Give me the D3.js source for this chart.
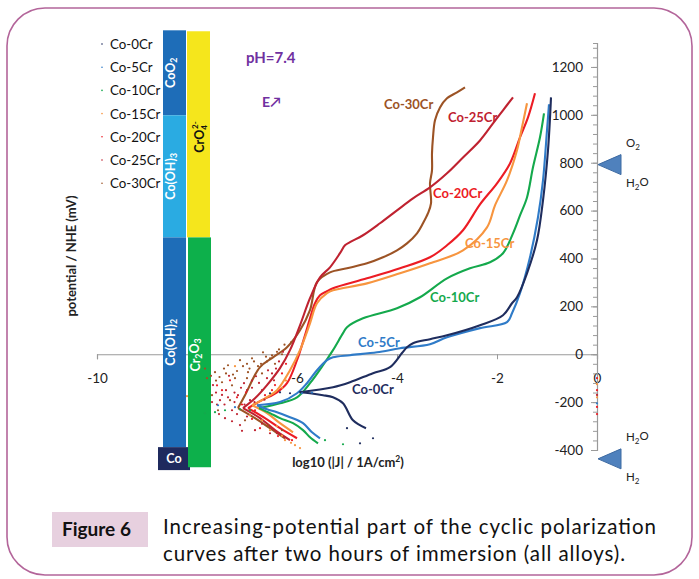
<!DOCTYPE html>
<html>
<head>
<meta charset="utf-8">
<script src="https://cdn.jsdelivr.net/npm/d3@7"></script>
<style>
  body { margin: 0; background: #fff; }
  svg { display: block; font-family: Lato, "Open Sans", sans-serif; }
</style>
</head>
<body>
<div id="chart"></div>
<script>
// series names and colours
var seriesNames = ["Co-0Cr", "Co-5Cr", "Co-10Cr", "Co-15Cr", "Co-20Cr", "Co-25Cr", "Co-30Cr"];
var seriesColors = ["#1f2d5e", "#2f7bc8", "#14a94c", "#f7953f", "#ec1c24", "#bf2230", "#9c5325"];

// polarization curves : [log10 |J|, E (mV/NHE)] ; cathodic part first, then anodic part from Ecorr
var curve0Cr = [[-4.62,-309],[-4.88,-276],[-5.08,-205],[-5.28,-180],[-5.48,-171],[-5.74,-163],[-5.95,-159],
  [-5.28,-138],[-4.94,-117],[-4.48,-79],[-4.14,-54],[-3.90,5],[-3.80,29],[-3.68,46],[-3.34,63],[-3.00,79],[-2.34,121],
  [-1.88,163],[-1.70,213],[-1.60,238],[-1.40,338],[-1.20,476],[-1.08,643],[-0.98,852],[-0.92,1073]];
var curve5Cr = [[-5.54,-351],[-5.70,-326],[-5.88,-288],[-6.14,-263],[-6.40,-242],[-6.60,-230],[-6.80,-213],
  [-6.34,-200],[-6.00,-163],[-5.80,-121],[-5.60,-67],[-5.40,-25],[-5.28,-13],[-4.94,-4],[-4.40,8],[-3.94,25],
  [-3.34,42],[-3.00,71],[-2.34,109],[-1.80,134],[-1.70,171],[-1.54,255],[-1.34,405],[-1.18,572],[-1.08,726],
  [-1.00,935],[-0.96,1044]];
var curve10Cr = [[-5.58,-372],[-5.74,-347],[-5.88,-317],[-6.08,-288],[-6.34,-267],[-6.54,-246],[-6.76,-225],
  [-6.34,-205],[-6.00,-180],[-5.74,-121],[-5.48,-46],[-5.28,17],[-5.08,88],[-5.00,113],[-4.68,150],[-4.00,192],
  [-3.54,238],[-3.00,317],[-2.54,359],[-2.14,384],[-1.88,422],[-1.68,505],[-1.54,580],[-1.40,655],[-1.28,781],
  [-1.14,906],[-1.06,1006]];
var curve15Cr = [[-6.08,-326],[-6.34,-288],[-6.60,-246],[-6.90,-213],
  [-6.64,-184],[-6.40,-150],[-6.14,-67],[-5.94,17],[-5.74,129],[-5.60,213],[-5.40,255],[-5.28,267],[-4.60,296],
  [-3.94,338],[-3.34,380],[-2.68,434],[-2.20,530],[-2.04,622],[-1.80,726],[-1.60,852],[-1.50,948],[-1.40,1048]];
var curve20Cr = [[-6.00,-351],[-6.34,-309],[-6.64,-267],[-6.98,-225],
  [-6.70,-192],[-6.40,-159],[-6.20,-121],[-6.00,-25],[-5.84,79],[-5.74,150],[-5.64,213],[-5.54,246],[-5.40,263],
  [-5.28,276],[-4.60,317],[-3.94,359],[-3.34,405],[-3.00,455],[-2.68,518],[-2.34,626],[-2.00,714],[-1.74,797],
  [-1.54,906],[-1.38,989],[-1.24,1090]];
var curve25Cr = [[-6.14,-359],[-6.44,-317],[-6.74,-267],[-7.08,-225],
  [-6.84,-184],[-6.60,-129],[-6.34,-58],[-6.14,17],[-5.94,121],[-5.74,234],[-5.54,321],[-5.34,363],[-5.14,422],
  [-5.04,455],[-4.94,468],[-4.68,497],[-4.34,547],[-4.00,601],[-3.68,651],[-3.34,697],[-3.00,756],[-2.68,822],
  [-2.34,893],[-2.08,964],[-1.88,1019],[-1.68,1073]];
var curve30Cr = [[-6.24,-351],[-6.54,-309],[-6.84,-267],[-7.18,-225],
  [-7.04,-171],[-6.74,-54],[-6.48,-13],[-6.20,29],[-5.94,100],[-5.74,184],[-5.60,301],[-5.34,342],[-5.00,359],
  [-4.60,380],[-4.28,405],[-4.00,434],[-3.80,463],[-3.60,505],[-3.48,547],[-3.38,589],[-3.32,630],[-3.34,714],
  [-3.30,768],[-3.30,839],[-3.28,906],[-3.24,977],[-3.14,1031],[-3.00,1069],[-2.80,1094],[-2.64,1115]];
var curves = [curve0Cr, curve5Cr, curve10Cr, curve15Cr, curve20Cr, curve25Cr, curve30Cr];

// scattered measurement points near Ecorr : [series index, log10 |J|, E]
var scatterPts = [
  [6,-7.64,-75],[6,-7.50,-117],[6,-7.38,-46],[6,-7.24,-100],[6,-7.14,-25],[6,-6.98,-75],[6,-6.90,-17],
  [6,-6.78,-50],[6,-6.68,8],[6,-6.54,-17],[6,-7.70,-171],[6,-7.34,-192],[6,-7.58,-234],[6,-7.04,-276],
  [6,-6.58,-296],[6,-6.30,-317],[6,-7.80,-100],[6,-7.46,-60],[6,-7.00,-40],[6,-6.40,10],
  [6,-6.30,0],[6,-6.36,20],[6,-6.50,-5],[6,-6.60,-30],[6,-6.62,-10],[6,-6.72,-40],[6,-6.86,-30],[6,-6.95,-60],
  [6,-7.08,-50],[6,-7.20,-70],[6,-7.28,-85],[6,-7.42,-80],[6,-7.55,-95],[6,-7.62,-110],[6,-7.72,-90],
  [6,-6.44,-40],[6,-6.70,-80],[6,-7.00,-100],[6,-7.30,-130],[6,-6.12,50],[6,-6.25,40],[6,-7.84,-60],
  [5,-7.68,-129],[5,-7.54,-192],[5,-7.42,-150],[5,-7.30,-234],[5,-7.18,-171],[5,-7.06,-121],[5,-6.94,-192],
  [5,-6.82,-92],[5,-6.70,-150],[5,-6.58,-67],[5,-6.46,-109],[5,-7.14,-296],[5,-6.84,-317],[5,-6.54,-330],
  [5,-6.24,-347],[5,-7.44,-267],[5,-7.60,-210],[5,-7.20,-250],[5,-6.90,-140],[5,-7.36,-90],
  [5,-6.50,-80],[5,-6.60,-100],[5,-6.76,-120],[5,-6.90,-110],[5,-7.00,-150],[5,-7.12,-140],[5,-7.25,-160],
  [5,-7.38,-180],[5,-7.50,-170],[5,-7.62,-160],[5,-7.70,-200],[5,-7.45,-210],[5,-7.25,-200],[5,-7.05,-210],
  [5,-6.85,-200],[5,-6.65,-190],[5,-7.00,-260],[5,-6.70,-290],[5,-6.40,-330],[5,-7.30,-280],[5,-7.56,-250],
  [5,-7.10,-320],[5,-6.36,-30],[5,-6.28,10],[5,-6.42,-60],
  [4,-7.34,-109],[4,-7.02,-159],[4,-6.84,-234],[4,-6.64,-171],[4,-6.44,-129],[4,-6.74,-309],[4,-6.38,-342],
  [4,-6.10,-359],[4,-7.50,-150],[4,-7.10,-210],[4,-6.30,-80],[4,-6.22,-40],[4,-6.50,-150],[4,-6.90,-270],
  [4,-7.20,-180],[4,-7.60,-130],
  [3,-6.54,-317],[3,-6.24,-359],[3,-6.04,-380],[3,-5.94,-392],[3,-6.70,-276],[3,-6.94,-255],[3,-7.24,-50],
  [3,-8.20,-175],[3,-6.40,-300],[3,-6.30,-340],[3,-6.12,-370],[3,-6.22,-110],[3,-6.30,-140],
  [2,-7.84,-246],[2,-7.64,-242],[2,-7.44,-234],[2,-7.14,-230],[2,-6.94,-234],[2,-5.44,-359],[2,-5.08,-376],
  [1,-7.58,-213],[1,-7.24,-221],[1,-5.90,-163],[1,-5.70,-160],
  [0,-6.54,-163],[0,-6.34,-159],[0,-6.14,-163],[0,-5.00,-309],[0,-4.74,-372],[0,-4.48,-351],
  [4,0,-100],[3,0,-125],[4,0,-150],[5,0,-170],[3,0,-180],[1,0,-205],[4,0,-220],[4,0,-250]];

// stability domains [label, E from, E to]
var coDomains = [["CoO2", 998, 1353], ["Co(OH)3", 488, 998], ["Co(OH)2", -388, 488]];
var crDomains = [["CrO4", 488, 1349], ["Cr2O3", -472, 488]];
var coMetal = ["Co", -484, -388];

// water stability lines at pH 7.4
var waterLines = [["O2", "H2O", 792], ["H2O", "H2", -437]];

var yTicks = [-400, -200, 0, 200, 400, 600, 800, 1000, 1200];
var xTicks = [-10, -8, -6, -4, -2, 0];

var W = 699, H = 579;
var svg = d3.select("#chart").append("svg").attr("width", W).attr("height", H);

// cadre
svg.append("rect").attr("x", 7).attr("y", 8).attr("width", 685).attr("height", 567)
  .attr("rx", 38).attr("ry", 38).attr("fill", "none").attr("stroke", "#b3659a").attr("stroke-width", 1.6);

var x = d3.scaleLinear().domain([-10, 0]).range([97, 597]);
var y = d3.scaleLinear().domain([-400, 1300]).range([450, 43]);

// axe horizontal
var xAxis = d3.axisBottom(x).tickValues(xTicks).tickSize(5).tickPadding(14).tickFormat(function(d){ return String(d); });
var gx = svg.append("g").attr("transform", "translate(0," + y(0) + ")").call(xAxis);
gx.select(".domain").attr("stroke", "#9a9a9a").attr("stroke-width", 1.2);
gx.selectAll(".tick line").attr("stroke", "#9a9a9a");
gx.selectAll("text").attr("font-size", 13.5).attr("fill", "#222").attr("font-family", "Lato");

// axe vertical (minor ticks every 40 mV)
var gyMinor = svg.append("g").attr("transform", "translate(" + x(0) + ",0)")
  .call(d3.axisLeft(y).tickValues(d3.range(-400, 1300, 40)).tickSize(4).tickFormat(""));
gyMinor.select(".domain").attr("stroke", "#9a9a9a").attr("stroke-width", 1.2);
gyMinor.selectAll(".tick line").attr("stroke", "#9a9a9a");
var gy = svg.append("g").attr("transform", "translate(" + x(0) + ",0)")
  .call(d3.axisLeft(y).tickValues(yTicks).tickSize(6).tickPadding(8).tickFormat(function(d){ return String(d); }));
gy.select(".domain").remove();
gy.selectAll(".tick line").attr("stroke", "#9a9a9a");
gy.selectAll("text").attr("font-size", 13.5).attr("fill", "#222").attr("font-family", "Lato");

// axis titles
svg.append("text").attr("transform", "translate(76," + 256 + ") rotate(-90)")
  .attr("text-anchor", "middle").attr("font-size", 13).attr("font-weight", "bold").attr("fill", "#222")
  .text("potential / NHE (mV)");
var xt = svg.append("text").attr("x", 348).attr("y", 467).attr("text-anchor", "middle")
  .attr("font-size", 13).attr("font-weight", "bold").attr("fill", "#222");
xt.append("tspan").text("log10 (|J| / 1A/cm");
xt.append("tspan").attr("font-size", 8.5).attr("dy", -5).text("2");
xt.append("tspan").attr("dy", 5).text(")");

// helper for labels with subscripts
function chemLabel(g, txt) {
  var parts = txt.match(/[A-Za-z()]+|\d+/g);
  parts.forEach(function(p) {
    if (/^\d+$/.test(p)) g.append("tspan").attr("font-size", "0.7em").attr("dy", "0.3em").text(p);
    else g.append("tspan").attr("dy", g.selectAll("tspan").size() ? "-0.3em" : 0).text(p);
  });
}

// stability domain bars
var coX = 163, crX = 187, barW = 23;
coDomains.forEach(function(d, i) {
  var y0 = y(d[2]), y1 = y(d[1]);
  svg.append("rect").attr("x", coX).attr("y", y0).attr("width", barW).attr("height", y1 - y0)
    .attr("fill", i === 1 ? "#2aabe2" : "#1e6db8");
  var t = svg.append("text").attr("transform", "translate(" + (coX + barW / 2 + 4) + "," + ((y0 + y1) / 2) + ") rotate(-90)")
    .attr("text-anchor", "middle").attr("fill", "#fff").attr("font-size", 12.5).attr("font-weight", "bold");
  chemLabel(t, d[0]);
});
svg.append("rect").attr("x", 158).attr("y", y(coMetal[2])).attr("width", 32)
  .attr("height", y(coMetal[1]) - y(coMetal[2])).attr("fill", "#1f2a5e");
svg.append("text").attr("x", 174).attr("y", (y(coMetal[2]) + y(coMetal[1])) / 2 + 4.5)
  .attr("text-anchor", "middle").attr("fill", "#fff").attr("font-size", 12.5).attr("font-weight", "bold").text(coMetal[0]);

crDomains.forEach(function(d, i) {
  var y0 = y(d[2]), y1 = y(d[1]);
  svg.append("rect").attr("x", crX + i).attr("y", y0).attr("width", barW).attr("height", y1 - y0)
    .attr("fill", i === 0 ? "#f5e61c" : "#0db04b");
});
var crO4 = svg.append("text").attr("transform", "translate(" + (crX + barW / 2 + 5) + "," + 137 + ") rotate(-90)")
  .attr("text-anchor", "middle").attr("fill", "#111").attr("font-size", 12.5).attr("font-weight", "bold");
crO4.append("tspan").text("CrO");
crO4.append("tspan").attr("font-size", 8).attr("dy", 3).text("4");
crO4.append("tspan").attr("font-size", 8).attr("dy", -9).attr("dx", -4).text("2-");
var cr2 = svg.append("text").attr("transform", "translate(" + (crX + barW / 2 + 5) + "," + 355 + ") rotate(-90)")
  .attr("text-anchor", "middle").attr("fill", "#fff").attr("font-size", 12.5).attr("font-weight", "bold");
chemLabel(cr2, crDomains[1][0]);

// water lines triangles
waterLines.forEach(function(d) {
  var ty = y(d[2]), tx = x(0) + 1;
  svg.append("path").attr("d", "M" + tx + "," + ty + "L" + (tx + 23) + "," + (ty - 10) + "L" + (tx + 23) + "," + (ty + 10) + "Z")
    .attr("fill", "#4f81bd").attr("stroke", "#3d6aa2").attr("stroke-width", 1);
  var up = svg.append("text").attr("x", 626).attr("y", ty - 14).attr("font-size", 11.5).attr("fill", "#222");
  chemLabel(up, d[0]);
  var dn = svg.append("text").attr("x", 626).attr("y", ty + 26).attr("font-size", 11.5).attr("fill", "#222");
  chemLabel(dn, d[1]);
});

// curves : split each one at Ecorr (lowest |J|) so the two branches meet in a point
var line = d3.line().x(function(d){ return x(d[0]); }).y(function(d){ return y(d[1]); })
  .curve(d3.curveCatmullRom.alpha(0.5));
for (var k = curves.length - 1; k >= 0; k--) {
  var c = curves[k];
  var iMin = d3.minIndex(c, function(d){ return d[0]; });
  [c.slice(0, iMin + 1), c.slice(iMin)].forEach(function(part) {
    svg.append("path").datum(part).attr("d", line).attr("fill", "none")
      .attr("stroke", seriesColors[k]).attr("stroke-width", 2.1).attr("stroke-linejoin", "round");
  });
}
svg.append("g").selectAll("circle").data(scatterPts).join("circle")
  .attr("cx", function(d){ return x(d[1]); }).attr("cy", function(d){ return y(d[2]); })
  .attr("r", 1.1).attr("fill", function(d){ return seriesColors[d[0]]; });

// curve labels
var labelPos = [[-4.90,-146],[-4.78,50],[-3.34,238],[-2.64,463],[-3.28,672],[-2.98,989],[-4.26,1044]];
seriesNames.forEach(function(n, i) {
  svg.append("text").attr("x", x(labelPos[i][0])).attr("y", y(labelPos[i][1]) + 4.5)
    .attr("font-size", 13).attr("font-weight", "bold").attr("fill", seriesColors[i]).text(n);
});

// legend
var leg = svg.append("g");
seriesNames.forEach(function(n, i) {
  var ly = 44 + i * 23.2;
  leg.append("circle").attr("cx", 102).attr("cy", ly).attr("r", 0.8).attr("fill", seriesColors[i]);
  leg.append("text").attr("x", 110).attr("y", ly + 5).attr("font-size", 13.3).attr("fill", "#111").text(n);
});

// annotations
svg.append("text").attr("x", 246).attr("y", 63).attr("font-size", 15).attr("font-weight", "bold")
  .attr("fill", "#7030a0").text("pH=7.4");
svg.append("text").attr("x", 262).attr("y", 107).attr("font-size", 14).attr("font-weight", "bold")
  .attr("fill", "#7030a0").text("E\u2197");

// caption
svg.append("rect").attr("x", 52).attr("y", 512).attr("width", 96).attr("height", 35).attr("fill", "#e7d0df");
svg.append("text").attr("x", 62).attr("y", 536).attr("font-size", 19).attr("font-weight", "bold")
  .attr("fill", "#111").text("Figure 6");
svg.append("text").attr("x", 163).attr("y", 534).attr("font-size", 20.5).attr("fill", "#111")
  .attr("textLength", 493).attr("lengthAdjust", "spacing").text("Increasing-potential part of the cyclic polarization");
svg.append("text").attr("x", 163).attr("y", 561).attr("font-size", 20.5).attr("fill", "#111")
  .attr("textLength", 462).attr("lengthAdjust", "spacing").text("curves after two hours of immersion (all alloys).");
</script>
</body>
</html>
